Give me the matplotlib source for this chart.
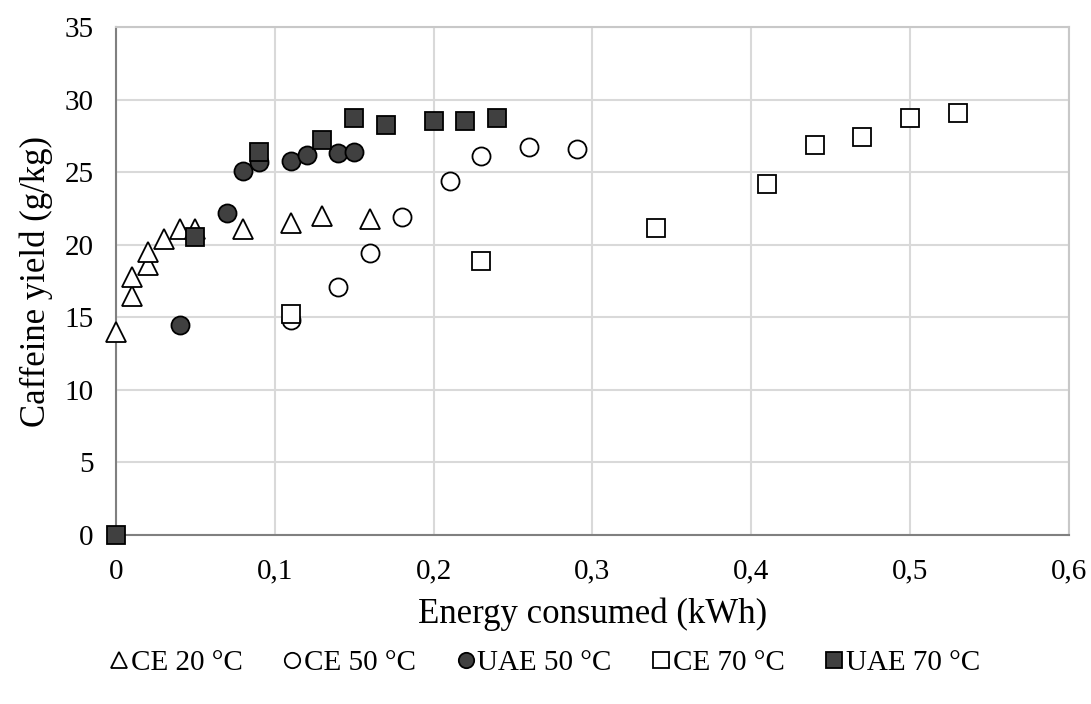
import matplotlib
matplotlib.use("Agg")
import matplotlib.pyplot as plt
from matplotlib.ticker import FuncFormatter, MultipleLocator

plt.rcParams["font.family"] = ["Liberation Serif", "DejaVu Serif"]

# energy consumed (kWh) and caffeine yield (g/kg) per series
ce20_x = [0.00, 0.01, 0.01, 0.02, 0.02, 0.03, 0.04, 0.05, 0.08, 0.11, 0.13, 0.16]
ce20_y = [14.0, 16.5, 17.8, 18.6, 19.5, 20.4, 21.05, 21.1, 21.1, 21.5, 22.0, 21.8]

ce50_x = [0.11, 0.14, 0.16, 0.18, 0.21, 0.23, 0.26, 0.29]
ce50_y = [14.8, 17.1, 19.4, 21.9, 24.4, 26.1, 26.7, 26.6]

uae50_x = [0.04, 0.07, 0.08, 0.09, 0.11, 0.12, 0.14, 0.15]
uae50_y = [14.5, 22.2, 25.1, 25.7, 25.8, 26.2, 26.3, 26.4]

ce70_x = [0.11, 0.23, 0.34, 0.41, 0.44, 0.47, 0.50, 0.53]
ce70_y = [15.2, 18.85, 21.15, 24.15, 26.85, 27.45, 28.7, 29.1]

uae70_x = [0.00, 0.05, 0.09, 0.13, 0.15, 0.17, 0.20, 0.22, 0.24]
uae70_y = [0.0, 20.55, 26.4, 27.2, 28.75, 28.25, 28.5, 28.5, 28.75]

series = [
    ("CE 20 °C", ce20_x, ce20_y, "^", "white"),
    ("CE 50 °C", ce50_x, ce50_y, "o", "white"),
    ("UAE 50 °C", uae50_x, uae50_y, "o", "#404040"),
    ("CE 70 °C", ce70_x, ce70_y, "s", "white"),
    ("UAE 70 °C", uae70_x, uae70_y, "s", "#404040"),
]

fig = plt.figure(figsize=(10.91, 7.04), dpi=100)
ax = fig.add_axes([0.1063, 0.2401, 0.8735, 0.7215])

for i, (name, xs, ys, mk, fc) in enumerate(series):
    ax.plot(xs, ys, linestyle="none", marker=mk, markersize=13 if mk != "^" else 14,
            markerfacecolor=fc, markeredgecolor="black", markeredgewidth=1.3,
            label=name, clip_on=False, zorder=3 + i)

ax.set_xlim(0, 0.6)
ax.set_ylim(0, 35)
ax.xaxis.set_major_locator(MultipleLocator(0.1))
ax.yaxis.set_major_locator(MultipleLocator(5))
ax.xaxis.set_major_formatter(FuncFormatter(
    lambda v, p: "0" if abs(v) < 1e-9 else f"{v:.1f}".replace(".", ",")))
ax.grid(True, color="#d9d9d9", linewidth=1.5)
ax.set_axisbelow(True)
for side, s in ax.spines.items():
    s.set_color("#808080" if side in ("left", "bottom") else "#c8c8c8")
    s.set_linewidth(1.5)
ax.tick_params(length=0, labelsize=21, pad=16)
ax.tick_params(axis="x", pad=17)

ax.set_xlabel("Energy consumed (kWh)", fontsize=25, labelpad=9)
ax.set_ylabel("Caffeine yield (g/kg)", fontsize=25, labelpad=8)

fig.legend(loc="center", bbox_to_anchor=(0.5, 1 - 663 / 704), ncol=5,
           frameon=False, fontsize=21, markerscale=0.85, handlelength=0.6,
           handletextpad=0.1, columnspacing=1.4)

fig.savefig("out.png", dpi=100)
